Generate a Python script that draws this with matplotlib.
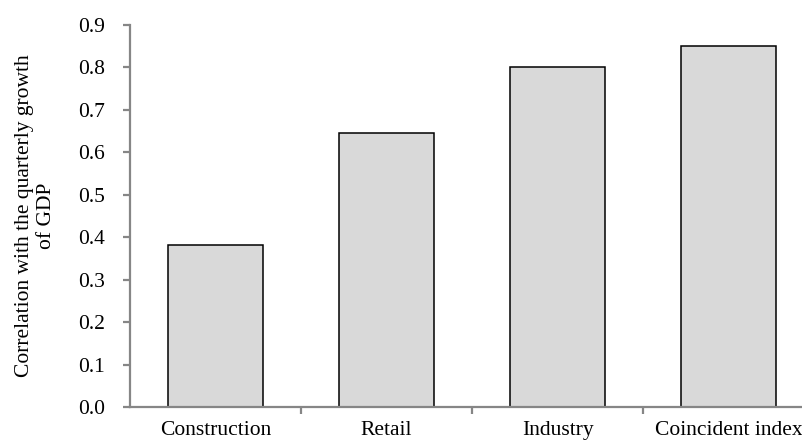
import matplotlib
matplotlib.use("Agg")
import matplotlib.pyplot as plt
from matplotlib.ticker import FixedLocator

# indicator categories and their correlation with quarterly GDP growth
categories = ["Construction", "Retail", "Industry", "Coincident index"]
correlations = [0.382, 0.646, 0.800, 0.851]
y_ticks = [0.0, 0.1, 0.2, 0.3, 0.4, 0.5, 0.6, 0.7, 0.8, 0.9]

plt.rcParams["font.family"] = ["Liberation Serif", "DejaVu Serif"]

fig = plt.figure(figsize=(8.03, 4.43), dpi=100)
ax = fig.add_axes([130 / 803, 36 / 443, 684 / 803, 382 / 443])

x = range(len(categories))
ax.bar(x, correlations, width=0.556, color="#d9d9d9", edgecolor="black", linewidth=1.1, zorder=2)

ax.set_xlim(-0.5, len(categories) - 0.5)
ax.set_ylim(0, 0.9)
ax.set_yticks(y_ticks)
ax.set_yticklabels([f"{v:.1f}" for v in y_ticks])
ax.set_xticks(list(x))
ax.set_xticklabels(categories)
ax.xaxis.set_minor_locator(FixedLocator([i + 0.5 for i in range(len(categories) - 1)]))

grey = "#868686"
for side in ["top", "right"]:
    ax.spines[side].set_visible(False)
for side in ["left", "bottom"]:
    ax.spines[side].set_color(grey)
    ax.spines[side].set_linewidth(1.6)

fs = 15.5
ax.tick_params(axis="y", direction="out", length=5, width=1.6, color=grey, labelsize=fs, pad=13)
ax.tick_params(axis="x", which="major", length=0, labelsize=fs, pad=10)
ax.tick_params(axis="x", which="minor", direction="out", length=5, width=1.6, color=grey)

ax.set_ylabel("Correlation with the quarterly growth\nof GDP", fontsize=fs, labelpad=16)

fig.savefig("out.png", dpi=100)
